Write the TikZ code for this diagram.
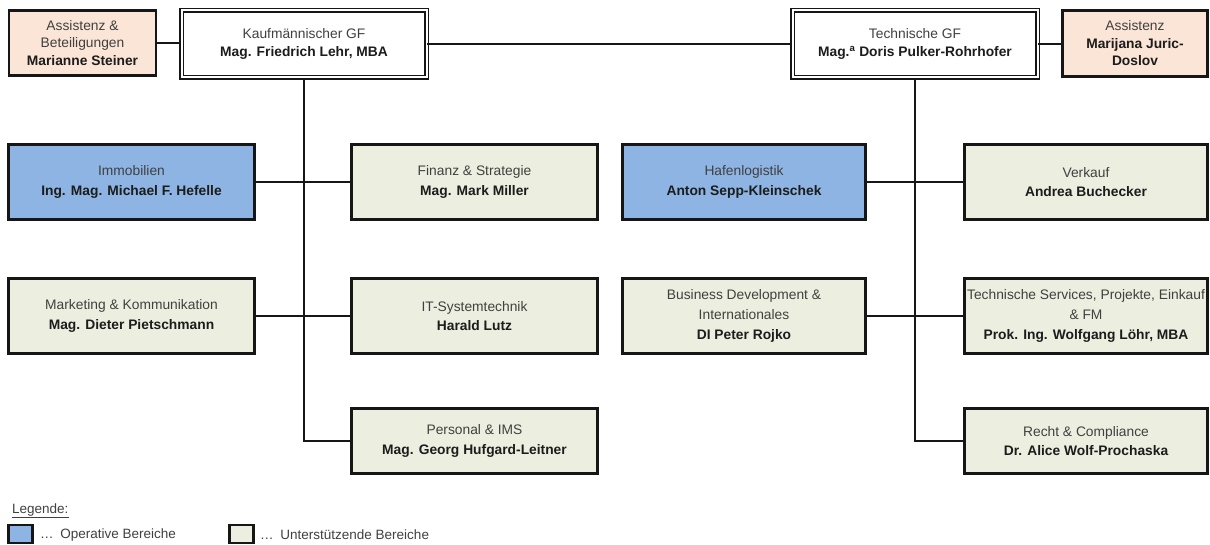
\documentclass[tikz,border=0pt]{standalone}
\usepackage{fontspec}
\setmainfont{Liberation Sans}

\definecolor{linec}{HTML}{161616}
\definecolor{headc}{HTML}{404040}
\definecolor{namec}{HTML}{1C1C1C}
\definecolor{assistfill}{HTML}{FBE5D6}
\definecolor{opfill}{HTML}{8DB4E2}
\definecolor{supfill}{HTML}{ECEEDF}

\newcommand\unitname[1]{{\color{headc}#1}}
\newcommand\personname[1]{{\color{namec}\bfseries #1}}

\tikzset{
  orgbox/.style={draw=linec, line width=2.2pt, align=center, inner sep=0pt,
    font=\fontsize{13.8}{19.7}\selectfont},
  topbox/.style={orgbox, font=\fontsize{13.8}{17.5}\selectfont},
  assistbox/.style={topbox, fill=assistfill, minimum width=147pt, minimum height=65pt},
  gfbox/.style={topbox, fill=white, line width=1.8pt, double=white,
    double distance=2pt, minimum width=245pt, minimum height=67pt},
  opbox/.style={orgbox, fill=opfill, minimum width=#1, minimum height=75pt},
  supbox/.style={orgbox, fill=supfill, minimum width=#1, minimum height=75pt},
  lowbox/.style={orgbox, fill=supfill, minimum width=#1, minimum height=65pt},
  conn/.style={draw=linec, line width=1.6pt},
  legtext/.style={anchor=west, inner sep=0pt, text=headc, font=\fontsize{13.5}{16}\selectfont},
  legsquare/.style={draw=linec, line width=2.2pt, minimum width=24pt, minimum height=18pt, inner sep=0pt}
}

\begin{document}
\begin{tikzpicture}[x=1pt, y=-1pt]
\useasboundingbox (0,0) rectangle (1210,545);

% management level
\node[assistbox] (assistL) at (82.5,43) {\unitname{Assistenz \&}\\\unitname{Beteiligungen}\\\personname{Marianne Steiner}};
\node[gfbox] (gfK) at (304,44) {\unitname{Kaufmännischer GF}\\\personname{Mag. Friedrich Lehr, MBA}};
\node[gfbox] (gfT) at (915,44) {\unitname{Technische GF}\\\personname{Mag.\textsuperscript{a} Doris Pulker-Rohrhofer}};
\node[assistbox, minimum width=145pt, minimum height=66pt] (assistR) at (1135,43.5) {\unitname{Assistenz}\\\personname{Marijana Juric-}\\\personname{Doslov}};

% commercial division
\node[opbox=246pt] (immo) at (131.5,182) {\unitname{Immobilien}\\\personname{Ing. Mag. Michael F. Hefelle}};
\node[supbox=246pt] (finanz) at (474.5,182) {\unitname{Finanz \& Strategie}\\\personname{Mag. Mark Miller}};
\node[supbox=246pt] (marketing) at (131.5,316) {\unitname{Marketing \& Kommunikation}\\\personname{Mag. Dieter Pietschmann}};
\node[supbox=246pt] (it) at (474.5,316) {\unitname{IT-Systemtechnik}\\\personname{Harald Lutz}};
\node[lowbox=246pt] (personal) at (474.5,441) {\unitname{Personal \& IMS}\\\personname{Mag. Georg Hufgard-Leitner}};

% technical division
\node[opbox=243pt] (hafen) at (744,182) {\unitname{Hafenlogistik}\\\personname{Anton Sepp-Kleinschek}};
\node[supbox=243pt] (verkauf) at (1086,182) {\unitname{Verkauf}\\\personname{Andrea Buchecker}};
\node[supbox=243pt] (busdev) at (744,316) {\unitname{Business Development \&}\\\unitname{Internationales}\\\personname{DI Peter Rojko}};
\node[supbox=243pt] (techserv) at (1086,316) {\unitname{Technische Services, Projekte, Einkauf}\\\unitname{\& FM}\\\personname{Prok. Ing. Wolfgang Löhr, MBA}};
\node[lowbox=243pt] (recht) at (1086,441) {\unitname{Recht \& Compliance}\\\personname{Dr. Alice Wolf-Prochaska}};

% reporting lines
\draw[conn] (assistL.east) -- (assistL.east -| gfK.west);
\draw[conn] (gfK.east) -- (gfK.east -| gfT.west);
\draw[conn] (gfT.east) -- (gfT.east -| assistR.west);
\draw[conn] (gfK.south) |- (personal.west);
\draw[conn] (gfT.south) |- (recht.west);
\draw[conn] (immo.east) -- (finanz.west);
\draw[conn] (marketing.east) -- (it.west);
\draw[conn] (hafen.east) -- (verkauf.west);
\draw[conn] (busdev.east) -- (techserv.west);

% legend
\node[legtext] (legtitle) at (12,511) {\underline{Legende:}};
\node[legsquare, fill=opfill] (legop) at (20.5,534) {};
\node[legtext] (legoptext) at (40,535) {…\enspace Operative Bereiche};
\node[legsquare, fill=supfill] (legsup) at (241.5,534) {};
\node[legtext] (legsuptext) at (260,535) {…\enspace Unterstützende Bereiche};
\end{tikzpicture}
\end{document}
